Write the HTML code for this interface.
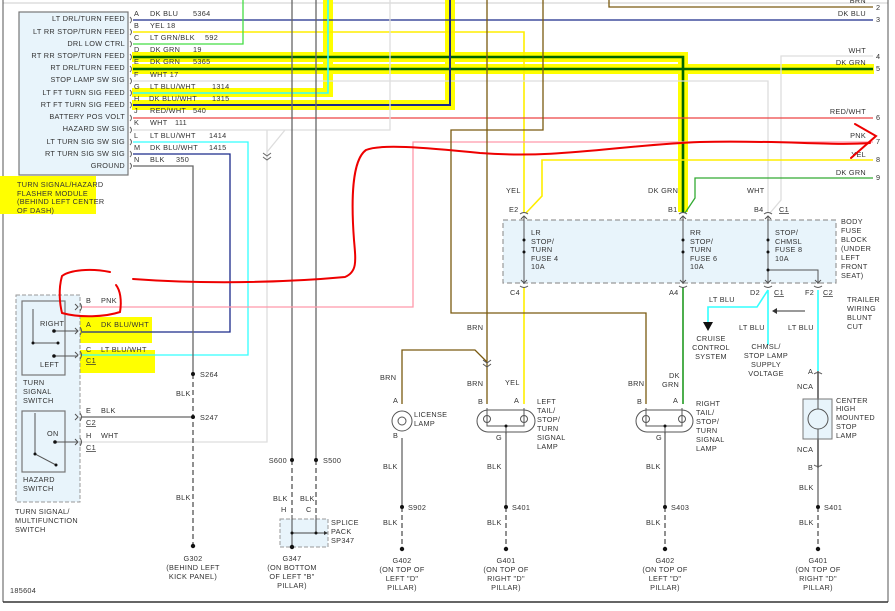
<!DOCTYPE html>
<html><head><meta charset="utf-8"><style>
body{margin:0;background:#fff}
svg text{font-family:"Liberation Sans",sans-serif;font-size:7.3px;fill:#333;letter-spacing:.3px}
.r{text-anchor:end}.m{text-anchor:middle}
</style></head><body>
<svg width="895" height="606" viewBox="0 0 895 606" xmlns="http://www.w3.org/2000/svg">
<rect width="895" height="606" fill="#fff"/>
<!-- frame -->
<line x1="3" y1="3" x2="888" y2="3" stroke="#ccc" stroke-width="1"/>
<line x1="3" y1="0" x2="3" y2="602" stroke="#555"/>
<line x1="888" y1="0" x2="888" y2="602" stroke="#555"/>
<line x1="3" y1="602" x2="888" y2="602" stroke="#333" stroke-width="1.5"/>

<!-- highlighter bands -->
<g fill="#ffff00">
<rect x="132" y="52" width="556" height="10"/>
<rect x="678" y="52" width="10" height="160"/>
<rect x="132" y="64" width="742" height="10"/>
<rect x="132" y="88" width="200" height="9"/>
<rect x="323" y="0" width="10" height="97"/>
<rect x="132" y="100" width="323" height="10"/>
<rect x="445" y="0" width="10" height="110"/>
<path d="M0 176 H96 V214 H0Z"/>
<path d="M33 317 H152 V343 H33Z"/>
<path d="M38 350 H155 V373 H38Z"/>
</g>

<!-- wires -->
<g fill="none" stroke-width="1.3">
<path d="M133 20 H873" stroke="#1a2a8a"/>
<path d="M133 32 H524 V213" stroke="#ffee00" stroke-width="1.6"/>
<path d="M133 44 H243 V0" stroke="#44dd44"/>
<path d="M133 57 H683 V213" stroke="#006600" stroke-width="2.6"/>
<path d="M133 69 H873" stroke="#006600" stroke-width="2.6"/>
<path d="M133 81 H768 V213" stroke="#dddddd"/>
<path d="M873 56 H781 V200 L770 213" stroke="#dddddd"/>
<path d="M133 93 H328 V0" stroke="#33ffff" stroke-width="1.6"/>
<path d="M133 105 H450 V0" stroke="#1a2a8a" stroke-width="2"/>
<path d="M133 118 H873" stroke="#ee4444"/>
<path d="M133 130 H390 V0" stroke="#dddddd"/>
<path d="M285 130 L267 152 M267 130 V442 H82" stroke="#dddddd"/>
<path d="M133 142 H248 V355 H82" stroke="#33ffff"/>
<path d="M133 154 H230 V332 H82" stroke="#1a2a8a"/>
<path d="M133 166 H193 V374" stroke="#666"/>
<path d="M82 417 H193" stroke="#666"/>
<path d="M193 374 V546" stroke="#555" stroke-dasharray="5,3"/>
<path d="M292 0 V460 M316 0 V460" stroke="#666"/>
<path d="M292 460 V515 M316 460 V515" stroke="#555" stroke-dasharray="5,3"/>
<path d="M873 142 H413 V307 H82" stroke="#ff99aa"/>
<path d="M873 160 H542 V196 L526 213" stroke="#ffee00" stroke-width="1.6"/>
<path d="M873 178 H695 V198 L685 213" stroke="#33aa33"/>
<path d="M524 287 V404" stroke="#ffee00" stroke-width="1.6"/>
<path d="M683 287 V404" stroke="#229922" stroke-width="1.6"/>
<path d="M487 0 V404" stroke="#7a5a10"/>
<path d="M543 0 V130 H451 V313 H646 V404" stroke="#7a5a10"/>
<path d="M609 0 V7 H873" stroke="#7a5a10"/>
<path d="M402 404 V350 H475 L487 362" stroke="#7a5a10"/>
<path d="M402 438 V507 M506 432 V507 M665 432 V507 M818 468 V507" stroke="#666"/>
<path d="M402 507 V548 M506 507 V548 M665 507 V548 M818 507 V548" stroke="#555" stroke-dasharray="5,3"/>
<path d="M768 290 L757 307 H708 V322 M768 290 V345 M818 290 V371" stroke="#33ffff" stroke-width="1.6"/>
<path d="M818 371 V468" stroke="#333"/>
<path d="M805 311 H774" stroke="#333" stroke-width="1"/>
</g>
<path d="M703 322 L713 322 L708 331Z" fill="#111"/>
<path d="M772 311 l5 -3 v6z" fill="#333"/>

<!-- right labels -->
<g>
<text x="866" y="3" class="r">BRN</text>
<text x="866" y="16" class="r">DK BLU</text>
<text x="866" y="53" class="r">WHT</text>
<text x="866" y="65" class="r">DK GRN</text>
<text x="866" y="114" class="r">RED/WHT</text>
<text x="866" y="138" class="r">PNK</text>
<text x="866" y="157" class="r">YEL</text>
<text x="866" y="175" class="r">DK GRN</text>
<text x="876" y="10">2</text><text x="876" y="22">3</text><text x="876" y="59">4</text><text x="876" y="71">5</text>
<text x="876" y="120">6</text><text x="876" y="144">7</text><text x="876" y="162">8</text><text x="876" y="180">9</text>
</g>

<!-- module -->
<rect x="19" y="12" width="109" height="163" fill="#e8f4fb" stroke="#777" stroke-width="1.2"/>
<g class="r">
<text x="125" y="21" class="r">LT DRL/TURN FEED</text>
<text x="125" y="34" class="r">LT RR STOP/TURN FEED</text>
<text x="125" y="46" class="r">DRL LOW CTRL</text>
<text x="125" y="58" class="r">RT RR STOP/TURN FEED</text>
<text x="125" y="70" class="r">RT DRL/TURN FEED</text>
<text x="125" y="82" class="r">STOP LAMP SW SIG</text>
<text x="125" y="95" class="r">LT FT TURN SIG FEED</text>
<text x="125" y="107" class="r">RT FT TURN SIG FEED</text>
<text x="125" y="119" class="r">BATTERY POS VOLT</text>
<text x="125" y="131" class="r">HAZARD SW SIG</text>
<text x="125" y="144" class="r">LT TURN SIG SW SIG</text>
<text x="125" y="156" class="r">RT TURN SIG SW SIG</text>
<text x="125" y="168" class="r">GROUND</text>
</g>
<g>
<text x="134" y="16">A</text><text x="150" y="16">DK BLU</text><text x="193" y="16">5364</text>
<text x="134" y="28">B</text><text x="150" y="28">YEL  18</text>
<text x="134" y="40">C</text><text x="150" y="40">LT GRN/BLK</text><text x="205" y="40">592</text>
<text x="134" y="52">D</text><text x="150" y="52">DK GRN</text><text x="193" y="52">19</text>
<text x="134" y="64">E</text><text x="150" y="64">DK GRN</text><text x="193" y="64">5365</text>
<text x="134" y="77">F</text><text x="150" y="77">WHT  17</text>
<text x="134" y="89">G</text><text x="150" y="89">LT BLU/WHT</text><text x="212" y="89">1314</text>
<text x="134" y="101">H</text><text x="149" y="101">DK BLU/WHT</text><text x="212" y="101">1315</text>
<text x="134" y="113">J</text><text x="150" y="113">RED/WHT</text><text x="193" y="113">540</text>
<text x="134" y="125">K</text><text x="150" y="125">WHT</text><text x="175" y="125">111</text>
<text x="134" y="138">L</text><text x="150" y="138">LT BLU/WHT</text><text x="209" y="138">1414</text>
<text x="134" y="150">M</text><text x="150" y="150">DK BLU/WHT</text><text x="209" y="150">1415</text>
<text x="134" y="162">N</text><text x="150" y="162">BLK</text><text x="176" y="162">350</text>
<text x="17" y="187">TURN SIGNAL/HAZARD</text>
<text x="17" y="196">FLASHER MODULE</text>
<text x="17" y="204">(BEHIND LEFT CENTER</text>
<text x="17" y="213">OF DASH)</text>
</g>
<g fill="none" stroke="#666" stroke-width="1">
<path d="M130 17 q3 3 0 6 M130 29 q3 3 0 6 M130 41 q3 3 0 6 M130 54 q3 3 0 6 M130 66 q3 3 0 6 M130 78 q3 3 0 6 M130 90 q3 3 0 6 M130 102 q3 3 0 6 M130 115 q3 3 0 6 M130 127 q3 3 0 6 M130 139 q3 3 0 6 M130 151 q3 3 0 6 M130 163 q3 3 0 6"/>
<path d="M263 153 l4 3 l4 -3 M263 157 l4 3 l4 -3"/>
</g>

<!-- switch assembly -->
<rect x="16" y="295" width="64" height="207" fill="#e8f4fb" stroke="#999" stroke-dasharray="4,2"/>
<rect x="22" y="301" width="43" height="74" fill="none" stroke="#777" stroke-width="1.2"/>
<rect x="22" y="411" width="43" height="61" fill="none" stroke="#777" stroke-width="1.2"/>
<g stroke="#555" stroke-width="1" fill="none">
<path d="M54 331 H78 M54 356 H78 M55 442 H78 M33 309 V343 H58 M35 413 V454 L56 465"/>
<path d="M75 304 l3 3 l-3 3 M75 328 l3 3 l-3 3 M75 352 l3 3 l-3 3 M75 414 l3 3 l-3 3 M75 439 l3 3 l-3 3"/>
<path d="M80 303 q3 4 0 8 M80 327 q3 4 0 8 M80 351 q3 4 0 8 M80 413 q3 4 0 8 M80 438 q3 4 0 8"/>
</g>
<g fill="#111"><circle cx="54" cy="331" r="1.8"/><circle cx="54" cy="356" r="1.8"/><circle cx="55" cy="442" r="1.8"/><circle cx="33" cy="343" r="1.5"/><circle cx="58" cy="343" r="1.5"/><circle cx="35" cy="454" r="1.5"/><circle cx="56" cy="465" r="1.5"/></g>
<g>
<text x="40" y="326">RIGHT</text><text x="40" y="367">LEFT</text><text x="47" y="436">ON</text>
<text x="23" y="385">TURN</text><text x="23" y="394">SIGNAL</text><text x="23" y="403">SWITCH</text>
<text x="23" y="482">HAZARD</text><text x="23" y="491">SWITCH</text>
<text x="15" y="514">TURN SIGNAL/</text><text x="15" y="523">MULTIFUNCTION</text><text x="15" y="532">SWITCH</text>
<text x="86" y="303">B</text><text x="101" y="303">PNK</text>
<text x="86" y="327">A</text><text x="101" y="327">DK BLU/WHT</text>
<text x="86" y="352">C</text><text x="101" y="352">LT BLU/WHT</text>
<text x="86" y="363" text-decoration="underline">C1</text>
<text x="86" y="413">E</text><text x="101" y="413">BLK</text>
<text x="86" y="425" text-decoration="underline">C2</text>
<text x="86" y="438">H</text><text x="101" y="438">WHT</text>
<text x="86" y="450" text-decoration="underline">C1</text>
<text x="200" y="377">S264</text><text x="176" y="396">BLK</text>
<text x="200" y="420">S247</text><text x="176" y="500">BLK</text>
<text x="193" y="561" class="m">G302</text><text x="193" y="570" class="m">(BEHIND LEFT</text><text x="193" y="579" class="m">KICK PANEL)</text>
<text x="10" y="593">185604</text>
<text x="287" y="463" class="r">S600</text><text x="323" y="463">S500</text>
<text x="273" y="501">BLK</text><text x="300" y="501">BLK</text>
<text x="281" y="512">H</text><text x="306" y="512">C</text>
<text x="331" y="525">SPLICE</text><text x="331" y="534">PACK</text><text x="331" y="543">SP347</text>
<text x="292" y="561" class="m">G347</text><text x="292" y="570" class="m">(ON BOTTOM</text><text x="292" y="579" class="m">OF LEFT "B"</text><text x="292" y="588" class="m">PILLAR)</text>
</g>
<g fill="#111"><circle cx="193" cy="374" r="2"/><circle cx="193" cy="417" r="2"/><circle cx="292" cy="460" r="2"/><circle cx="316" cy="460" r="2"/></g>
<rect x="280" y="519" width="48" height="28" fill="#e8f4fb" stroke="#999" stroke-dasharray="4,2"/>
<path d="M292 515 V547 M316 515 V533 M292 533 H324" stroke="#444" fill="none"/>
<path d="M324 531 l4 2 l-4 2z" fill="#333"/><circle cx="292" cy="533" r="1.5" fill="#111"/><circle cx="316" cy="533" r="1.5" fill="#111"/>
<circle cx="292" cy="547" r="2.2" fill="#111"/><circle cx="193" cy="546" r="2.2" fill="#111"/>

<!-- fuse block -->
<rect x="503" y="220" width="333" height="63" fill="#e8f4fb" stroke="#999" stroke-width="1.2" stroke-dasharray="5,3"/>
<g stroke="#555" fill="none" stroke-width="1">
<path d="M524 216 V284 M683 216 V284 M768 216 V284 M768 270 H818 V284"/>
<path d="M521 219 l3 -3 l3 3 M521 280 l3 3 l3 -3 M680 219 l3 -3 l3 3 M680 280 l3 3 l3 -3 M765 219 l3 -3 l3 3 M765 280 l3 3 l3 -3 M815 280 l3 3 l3 -3"/>
<path d="M520 286 q4 3 8 0 M679 286 q4 3 8 0 M764 286 q4 3 8 0 M814 286 q4 3 8 0 M520 214 q4 -3 8 0 M679 214 q4 -3 8 0 M764 214 q4 -3 8 0"/>
</g>
<g fill="#111"><circle cx="524" cy="240" r="1.5"/><circle cx="524" cy="252" r="1.5"/><circle cx="683" cy="240" r="1.5"/><circle cx="683" cy="252" r="1.5"/><circle cx="768" cy="240" r="1.5"/><circle cx="768" cy="252" r="1.5"/><circle cx="768" cy="270" r="1.5"/></g>
<g>
<text x="506" y="193">YEL</text><text x="648" y="193">DK GRN</text><text x="747" y="193">WHT</text>
<text x="509" y="212">E2</text><text x="668" y="212">B1</text><text x="754" y="212">B4</text><text x="779" y="212" text-decoration="underline">C1</text>
<text x="531" y="235">LR</text><text x="531" y="244">STOP/</text><text x="531" y="252">TURN</text><text x="531" y="261">FUSE 4</text><text x="531" y="269">10A</text>
<text x="690" y="235">RR</text><text x="690" y="244">STOP/</text><text x="690" y="252">TURN</text><text x="690" y="261">FUSE 6</text><text x="690" y="269">10A</text>
<text x="775" y="235">STOP/</text><text x="775" y="244">CHMSL</text><text x="775" y="252">FUSE 8</text><text x="775" y="261">10A</text>
<text x="841" y="224">BODY</text><text x="841" y="233">FUSE</text><text x="841" y="242">BLOCK</text><text x="841" y="251">(UNDER</text><text x="841" y="260">LEFT</text><text x="841" y="269">FRONT</text><text x="841" y="278">SEAT)</text>
<text x="510" y="295">C4</text><text x="669" y="295">A4</text>
<text x="750" y="295">D2</text><text x="774" y="295" text-decoration="underline">C1</text>
<text x="805" y="295">F2</text><text x="823" y="295" text-decoration="underline">C2</text>
<text x="709" y="302">LT BLU</text><text x="739" y="330">LT BLU</text><text x="788" y="330">LT BLU</text>
<text x="847" y="302">TRAILER</text><text x="847" y="311">WIRING</text><text x="847" y="320">BLUNT</text><text x="847" y="329">CUT</text>
<text x="711" y="341" class="m">CRUISE</text><text x="711" y="350" class="m">CONTROL</text><text x="711" y="359" class="m">SYSTEM</text>
<text x="766" y="349" class="m">CHMSL/</text><text x="766" y="358" class="m">STOP LAMP</text><text x="766" y="367" class="m">SUPPLY</text><text x="766" y="376" class="m">VOLTAGE</text>
</g>

<!-- lamps -->
<g stroke="#555" fill="none" stroke-width="1">
<path d="M483 360 l4 3 l4 -3 M483 364 l4 3 l4 -3"/>
<circle cx="402" cy="421" r="10" fill="#fff"/>
<rect x="477" y="410" width="58" height="22" rx="11" fill="#fff"/>
<rect x="636" y="410" width="57" height="22" rx="11" fill="#fff"/>
<path d="M487 408 V426 H524 V408 M506 426 V434 M646 408 V426 H682 V408 M665 426 V434"/>
<circle cx="487" cy="419" r="3.5"/><circle cx="524" cy="419" r="3.5"/><circle cx="646" cy="419" r="3.5"/><circle cx="682" cy="419" r="3.5"/>
<circle cx="402" cy="421" r="4"/>
<rect x="803" y="399" width="29" height="40" fill="#e8f4fb" stroke="#777"/>
<circle cx="818" cy="419" r="10"/><path d="M818 399 V409 M818 429 V439"/>
<path d="M814 374 q4 -3 8 0 M814 465 q4 3 8 0"/>
</g>
<g fill="#111"><circle cx="506" cy="426" r="1.5"/><circle cx="665" cy="426" r="1.5"/>
<circle cx="402" cy="507" r="2"/><circle cx="506" cy="507" r="2"/><circle cx="665" cy="507" r="2"/><circle cx="818" cy="507" r="2"/>
<circle cx="402" cy="549" r="2.2"/><circle cx="506" cy="549" r="2.2"/><circle cx="665" cy="549" r="2.2"/><circle cx="818" cy="549" r="2.2"/></g>
<g>
<text x="380" y="380">BRN</text><text x="467" y="330">BRN</text><text x="467" y="386">BRN</text><text x="505" y="385">YEL</text>
<text x="628" y="386">BRN</text><text x="669" y="378">DK</text><text x="662" y="387">GRN</text>
<text x="393" y="403">A</text><text x="393" y="438">B</text><text x="414" y="417">LICENSE</text><text x="414" y="426">LAMP</text>
<text x="478" y="404">B</text><text x="514" y="403">A</text><text x="496" y="440">G</text>
<text x="537" y="404">LEFT</text><text x="537" y="413">TAIL/</text><text x="537" y="422">STOP/</text><text x="537" y="431">TURN</text><text x="537" y="440">SIGNAL</text><text x="537" y="449">LAMP</text>
<text x="637" y="404">B</text><text x="673" y="403">A</text><text x="656" y="440">G</text>
<text x="696" y="406">RIGHT</text><text x="696" y="415">TAIL/</text><text x="696" y="424">STOP/</text><text x="696" y="433">TURN</text><text x="696" y="442">SIGNAL</text><text x="696" y="451">LAMP</text>
<text x="808" y="374">A</text><text x="797" y="389">NCA</text><text x="797" y="452">NCA</text><text x="808" y="470">B</text>
<text x="836" y="403">CENTER</text><text x="836" y="411">HIGH</text><text x="836" y="420">MOUNTED</text><text x="836" y="429">STOP</text><text x="836" y="438">LAMP</text>
<text x="383" y="469">BLK</text><text x="487" y="469">BLK</text><text x="646" y="469">BLK</text><text x="799" y="490">BLK</text>
<text x="408" y="510">S902</text><text x="512" y="510">S401</text><text x="671" y="510">S403</text><text x="824" y="510">S401</text>
<text x="383" y="525">BLK</text><text x="487" y="525">BLK</text><text x="646" y="525">BLK</text><text x="799" y="525">BLK</text>
<text x="402" y="563" class="m">G402</text><text x="402" y="572" class="m">(ON TOP OF</text><text x="402" y="581" class="m">LEFT "D"</text><text x="402" y="590" class="m">PILLAR)</text>
<text x="506" y="563" class="m">G401</text><text x="506" y="572" class="m">(ON TOP OF</text><text x="506" y="581" class="m">RIGHT "D"</text><text x="506" y="590" class="m">PILLAR)</text>
<text x="665" y="563" class="m">G402</text><text x="665" y="572" class="m">(ON TOP OF</text><text x="665" y="581" class="m">LEFT "D"</text><text x="665" y="590" class="m">PILLAR)</text>
<text x="818" y="563" class="m">G401</text><text x="818" y="572" class="m">(ON TOP OF</text><text x="818" y="581" class="m">RIGHT "D"</text><text x="818" y="590" class="m">PILLAR)</text>
</g>

<!-- red hand drawing -->
<g fill="none" stroke="#ee0000" stroke-width="2" stroke-linecap="round">
<path d="M133 279 C200 284 280 283 345 277 C357 272 356 262 354 240 C351 200 352 160 366 150 C380 144 420 147 480 153 C560 159 620 145 700 142 C780 140 830 146 870 143"/>
<path d="M855 124 L876 136 L851 158"/>
<path d="M110 272 C90 268 70 270 62 276 C58 290 60 305 62 313 C80 318 105 317 120 312 C122 300 120 290 116 285"/>
</g>
</svg>
</body></html>
